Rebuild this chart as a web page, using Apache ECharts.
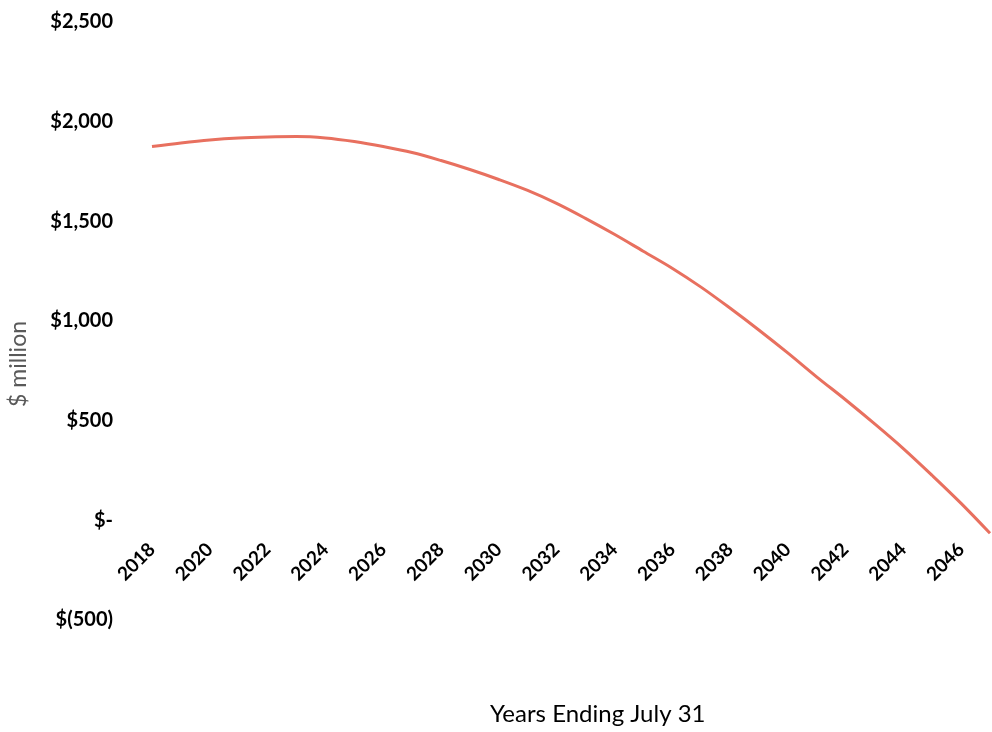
<!DOCTYPE html>
<html>
<head>
<meta charset="utf-8">
<title>Projected balance, $ million</title>
<script src="https://cdn.jsdelivr.net/npm/echarts@6/dist/echarts.min.js"></script>
<style>
  html, body { margin: 0; padding: 0; background: #ffffff; }
  #chart { width: 992px; height: 732px; }
</style>
</head>
<body>
<div id="chart"></div>
<script>
// Fiscal years (ending July 31)
const years = [
  '2018','2019','2020','2021','2022','2023','2024','2025','2026','2027',
  '2028','2029','2030','2031','2032','2033','2034','2035','2036','2037',
  '2038','2039','2040','2041','2042','2043','2044','2045','2046','2047'
];

// Projected balance, $ million
const balance = [
  1875, 1893, 1908, 1918, 1923, 1925, 1918, 1900, 1875, 1845,
  1805, 1760, 1710, 1655, 1590, 1515, 1435, 1350, 1265, 1170,
  1065, 955, 840, 720, 605, 485, 360, 225, 85, -65
];

// Value axis range
const yMin = -500;
const yMax = 2500;
const yStep = 500;

const FONT = 'Lato, "Open Sans", sans-serif';

const GRID_TOP = 22;
const GRID_BOTTOM = 112;
const CHART_H = 732;

function formatDollars(v) {
  if (v === 0) return '$-';
  const s = Math.abs(v).toLocaleString('en-US');
  return v < 0 ? '$(' + s + ')' : '$' + s;
}

// The category axis sits on the zero line of the value axis
const plotH = CHART_H - GRID_TOP - GRID_BOTTOM;
const zeroShift = plotH * (0 - yMin) / (yMax - yMin);

const chart = echarts.init(document.getElementById('chart'), null, { renderer: 'canvas' });

chart.setOption({
  backgroundColor: '#ffffff',
  animation: false,
  grid: { left: 152, right: 2, top: GRID_TOP, bottom: GRID_BOTTOM, containLabel: false },
  xAxis: {
    type: 'category',
    data: years,
    boundaryGap: false,
    offset: -zeroShift,
    axisLine: { show: false, onZero: false },
    axisTick: { show: false },
    splitLine: { show: false },
    axisLabel: {
      interval: 1,
      rotate: 45,
      margin: 26,
      color: '#000000',
      fontFamily: FONT,
      fontWeight: 'bold',
      fontSize: 19
    }
  },
  yAxis: {
    type: 'value',
    min: yMin,
    max: yMax,
    interval: yStep,
    axisLine: { show: false },
    axisTick: { show: false },
    splitLine: { show: false },
    axisLabel: {
      margin: 39,
      color: '#000000',
      fontFamily: FONT,
      fontWeight: 'bold',
      fontSize: 20,
      formatter: formatDollars
    }
  },
  graphic: [
    {
      type: 'text',
      left: 7,
      top: 321,
      rotation: Math.PI / 2,
      style: {
        text: '$ million',
        fill: '#595959',
        font: '23px ' + FONT
      }
    },
    {
      type: 'text',
      left: 490,
      top: 702,
      style: {
        text: 'Years Ending July 31',
        fill: '#000000',
        font: '24px ' + FONT
      }
    }
  ],
  series: [
    {
      type: 'line',
      data: balance,
      smooth: 0.35,
      symbol: 'none',
      clip: false,
      lineStyle: { color: '#E8705F', width: 3 }
    }
  ]
});
</script>
</body>
</html>
